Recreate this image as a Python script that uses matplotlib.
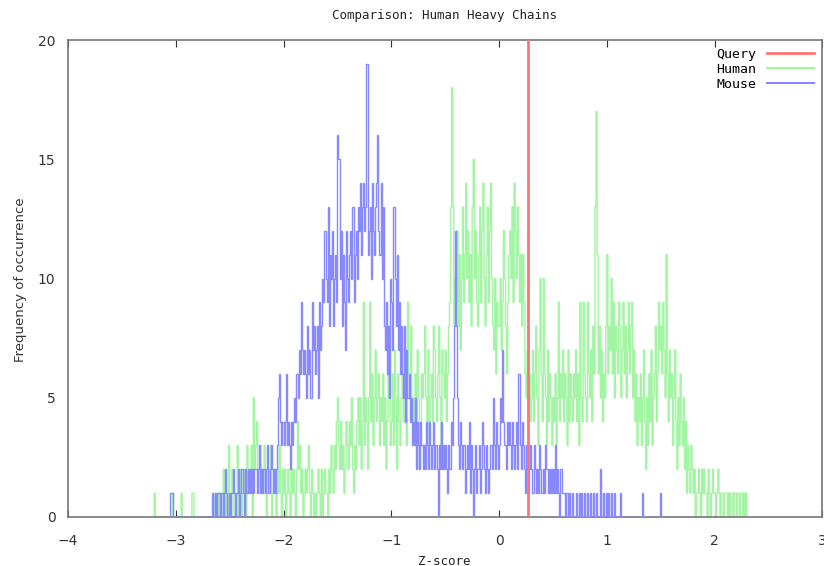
import matplotlib
matplotlib.use("Agg")
import matplotlib.pyplot as plt
import numpy as np
from matplotlib.lines import Line2D

# histogram counts, bin width 0.01, one row per 0.1 of z-score
HUMAN_START = -3.20
HUMAN = [
    1, 0, 0, 0, 0, 0, 0, 0, 0, 0,
    0, 0, 0, 0, 0, 0, 0, 1, 0, 0,
    0, 0, 0, 0, 0, 1, 0, 0, 0, 0,
    0, 0, 0, 0, 0, 1, 1, 0, 0, 0,
    0, 0, 0, 0, 0, 0, 0, 0, 0, 0,
    0, 0, 0, 0, 0, 1, 0, 0, 0, 1,
    0, 1, 0, 0, 2, 0, 1, 0, 0, 3,
    1, 0, 2, 1, 0, 0, 1, 3, 0, 1,
    2, 0, 1, 2, 1, 0, 3, 1, 2, 1,
    3, 0, 5, 2, 3, 4, 1, 2, 3, 1,
    2, 1, 3, 2, 0, 1, 2, 1, 3, 0,
    1, 2, 1, 0, 2, 1, 3, 1, 0, 2,
    1, 2, 0, 1, 2, 1, 0, 2, 1, 2,
    1, 0, 2, 4, 2, 3, 1, 2, 0, 1,
    2, 1, 2, 3, 1, 0, 2, 1, 0, 1,
    0, 1, 2, 1, 0, 2, 0, 1, 2, 1,
    1, 0, 2, 1, 3, 2, 1, 3, 2, 4,
    5, 3, 2, 4, 2, 3, 1, 2, 4, 3,
    2, 4, 3, 5, 2, 1, 3, 2, 4, 5,
    3, 5, 2, 4, 9, 3, 5, 4, 2, 5,
    9, 4, 6, 3, 5, 7, 4, 5, 6, 3,
    5, 4, 6, 3, 5, 2, 4, 6, 5, 3,
    4, 6, 3, 7, 5, 2, 6, 4, 3, 5,
    6, 4, 5, 7, 3, 9, 6, 5, 8, 4,
    5, 3, 6, 4, 7, 5, 2, 4, 6, 5,
    6, 8, 5, 4, 7, 3, 5, 6, 4, 8,
    7, 5, 4, 6, 8, 5, 3, 7, 6, 5,
    7, 4, 6, 8, 9, 13, 18, 13, 8, 10,
    9, 12, 8, 11, 7, 10, 13, 9, 11, 14,
    10, 12, 9, 11, 8, 13, 15, 10, 12, 9,
    8, 11, 13, 9, 12, 14, 10, 8, 11, 13,
    9, 12, 14, 10, 8, 7, 10, 6, 9, 8,
    8, 10, 7, 9, 12, 10, 8, 6, 9, 11,
    12, 10, 13, 9, 14, 12, 10, 13, 11, 9,
    11, 8, 11, 9, 6, 5, 7, 8, 6, 4,
    5, 7, 4, 6, 8, 5, 3, 7, 10, 6,
    4, 10, 6, 5, 3, 7, 4, 6, 5, 3,
    5, 4, 6, 3, 5, 9, 4, 6, 5, 7,
    4, 6, 5, 3, 7, 4, 6, 5, 4, 6,
    5, 7, 4, 6, 3, 9, 5, 4, 9, 6,
    5, 4, 9, 6, 5, 7, 4, 8, 6, 13,
    17, 11, 6, 8, 5, 7, 4, 6, 5, 8,
    11, 6, 8, 7, 10, 6, 9, 5, 8, 7,
    6, 9, 8, 5, 7, 9, 6, 8, 5, 7,
    9, 6, 8, 9, 5, 7, 4, 6, 3, 5,
    4, 6, 3, 5, 7, 4, 2, 5, 3, 6,
    4, 7, 3, 5, 6, 8, 4, 6, 9, 7,
    8, 6, 9, 7, 5, 11, 6, 4, 7, 5,
    6, 3, 5, 7, 4, 2, 5, 3, 6, 4,
    3, 5, 2, 4, 1, 3, 2, 1, 3, 2,
    1, 2, 0, 1, 1, 2, 1, 0, 2, 1,
    2, 1, 1, 0, 2, 1, 0, 1, 2, 1,
    1, 0, 1, 2, 1, 0, 1, 1, 0, 1,
    1, 1, 0, 1, 0, 1, 1, 0, 1, 1,
    0, 1, 1, 0, 1, 1, 0, 1, 0, 1,
]

MOUSE_START = -3.10
MOUSE = [
    0, 0, 0, 0, 0, 1, 1, 0, 0, 0,
    0, 0, 0, 0, 0, 0, 0, 0, 0, 0,
    0, 0, 0, 0, 0, 0, 0, 0, 0, 0,
    0, 0, 0, 0, 0, 0, 0, 0, 0, 0,
    0, 0, 0, 0, 1, 0, 1, 0, 1, 1,
    1, 0, 1, 1, 0, 1, 2, 1, 0, 1,
    0, 1, 1, 2, 1, 0, 1, 1, 2, 0,
    1, 2, 1, 0, 2, 1, 1, 2, 1, 2,
    1, 2, 1, 2, 2, 1, 2, 3, 1, 2,
    1, 2, 2, 1, 2, 3, 1, 2, 3, 2,
    1, 2, 1, 2, 3, 5, 6, 4, 3, 4,
    3, 4, 6, 3, 4, 3, 2, 4, 3, 4,
    5, 4, 6, 5, 7, 6, 9, 7, 6, 7,
    6, 5, 8, 6, 7, 5, 9, 7, 8, 6,
    7, 8, 5, 9, 7, 8, 10, 9, 12, 10,
    9, 13, 8, 11, 10, 12, 8, 10, 11, 9,
    16, 15, 10, 12, 8, 11, 9, 7, 12, 10,
    9, 11, 12, 10, 13, 9, 11, 12, 10, 13,
    12, 14, 11, 13, 14, 12, 13, 19, 11, 12,
    13, 10, 14, 12, 11, 13, 14, 16, 12, 11,
    14, 10, 13, 8, 7, 9, 6, 8, 5, 10,
    9, 7, 13, 10, 8, 11, 7, 9, 6, 8,
    6, 5, 8, 4, 7, 5, 6, 4, 5, 3,
    4, 3, 5, 2, 4, 3, 2, 4, 3, 2,
    3, 2, 4, 3, 2, 4, 3, 2, 3, 4,
    2, 3, 2, 0, 3, 2, 4, 2, 3, 2,
    3, 2, 1, 3, 2, 4, 3, 5, 8, 12,
    8, 5, 3, 2, 4, 3, 2, 3, 1, 2,
    3, 2, 4, 1, 3, 2, 0, 2, 3, 1,
    2, 3, 1, 2, 4, 3, 2, 1, 3, 2,
    1, 2, 3, 2, 5, 3, 2, 4, 3, 2,
    3, 5, 4, 7, 4, 3, 2, 4, 3, 4,
    3, 2, 4, 3, 2, 3, 4, 2, 6, 3,
    2, 4, 3, 2, 1, 3, 2, 1, 2, 3,
    2, 1, 3, 2, 1, 2, 1, 3, 2, 1,
    1, 2, 1, 3, 2, 1, 2, 1, 2, 1,
    2, 1, 3, 1, 2, 1, 0, 2, 1, 1,
    1, 0, 1, 1, 0, 1, 0, 0, 1, 0,
    0, 1, 0, 0, 1, 0, 1, 0, 0, 1,
    0, 0, 1, 0, 1, 0, 0, 1, 0, 0,
    1, 0, 0, 0, 2, 0, 1, 0, 0, 1,
    0, 1, 0, 0, 1, 0, 0, 1, 0, 0,
    0, 0, 1, 0, 0, 0, 0, 0, 0, 0,
    0, 0, 0, 0, 0, 0, 0, 0, 0, 0,
    0, 0, 0, 1, 0, 0, 0, 0, 0, 0,
    0, 0, 0, 0, 0, 0, 0, 0, 0, 1,
]

QUERY_Z = 0.27
BIN_WIDTH = 0.01

X_TICKS = [-4, -3, -2, -1, 0, 1, 2, 3]
Y_TICKS = [0, 5, 10, 15, 20]

GREEN = "#a2f5a2"
BLUE = "#8888ff"
RED = "#ff7474"
MONO = "DejaVu Sans Mono"


def edges(start, n):
    return np.round(start + BIN_WIDTH * np.arange(n + 1), 2)


fig = plt.figure(figsize=(8.24, 5.66), dpi=100, facecolor="white")
ax = fig.add_axes([0.0825, 0.0866, 0.9155, 0.8427])

ax.stairs(HUMAN, edges(HUMAN_START, len(HUMAN)), color=GREEN, linewidth=1.0, zorder=2)
ax.stairs(MOUSE, edges(MOUSE_START, len(MOUSE)), color=BLUE, linewidth=1.0, zorder=3)
ax.axvline(QUERY_Z, color=RED, linewidth=2.0, zorder=4)

ax.set_xlim(-4, 3)
ax.set_ylim(0, 20)
ax.set_xticks(X_TICKS)
ax.set_yticks(Y_TICKS)
ax.tick_params(axis="x", direction="in", top=True, length=5, pad=12, labelsize=10, colors="#333333")
ax.tick_params(axis="y", direction="in", right=False, length=0, pad=9, labelsize=10, colors="#333333")
for spine in ax.spines.values():
    spine.set_color("#777777")
    spine.set_linewidth(1.2)

fig.text(0.539, 0.973, "Comparison: Human Heavy Chains", ha="center", va="center",
         family=MONO, fontsize=9, color="#222222")
fig.text(0.539, 0.008, "Z-score", ha="center", va="center", family=MONO, fontsize=9, color="#222222")
fig.text(0.025, 0.505, "Frequency of occurrence", rotation=90, ha="center", va="center",
         fontsize=9.5, color="#333333")

handles = [
    Line2D([], [], color=RED, linewidth=2.0),
    Line2D([], [], color=GREEN, linewidth=1.5),
    Line2D([], [], color=BLUE, linewidth=1.5),
]
leg = ax.legend(handles, ["Query", "Human", "Mouse"], loc="upper right", frameon=False,
                markerfirst=False, handlelength=3.6, handletextpad=0.8, labelspacing=0.15,
                borderaxespad=0.2, prop={"family": MONO, "size": 9.5})

fig.savefig("out.png", dpi=100, facecolor="white")
